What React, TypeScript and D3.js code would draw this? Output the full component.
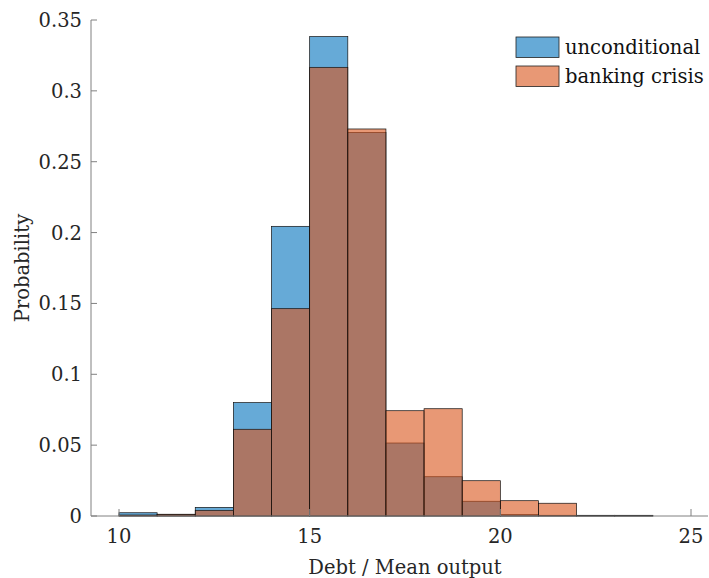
import React from "react";
import * as d3 from "d3";

const binEdges = [10, 11, 12, 13, 14, 15, 16, 17, 18, 19, 20, 21, 22, 23, 24];
const unconditional = [0.0023, 0.0012, 0.0061, 0.08, 0.2044, 0.3383, 0.2707, 0.0515, 0.0277, 0.0104, 0.001, 0.0005, 0.0002, 0.0001];
const bankingCrisis = [0.0007, 0.0012, 0.004, 0.0612, 0.1463, 0.3166, 0.2731, 0.0743, 0.0757, 0.0249, 0.0108, 0.009, 0.0005, 0.0005];
const xTicks = [10, 15, 20, 25];
const yTicks = [0, 0.05, 0.1, 0.15, 0.2, 0.25, 0.3, 0.35];
const yTickLabels = ["0", "0.05", "0.1", "0.15", "0.2", "0.25", "0.3", "0.35"];
const seriesNames = ["unconditional", "banking crisis"];
const seriesColors = ["#0072BD", "#D95319"];

const W = 709;
const H = 578;
const FONT = "'DejaVu Serif', 'Liberation Serif', serif";
const FS = 19.5;

export default function App() {
  const x = d3.scaleLinear().domain([10, 25]).range([119, 691]);
  const y = d3.scaleLinear().domain([0, 0.35]).range([516, 20]);
  const x0 = 91;
  const x1 = 708;
  const series = [unconditional, bankingCrisis];

  return (
    <svg width={W} height={H} style={{ position: "absolute", left: 0, top: 0, background: "#fff" }}>
      <rect x={0} y={0} width={W} height={H} fill="#fff" />
      {series.map((vals, si) => (
        <g key={si}>
          {vals.map((v, i) => {
            const xa = x(binEdges[i]);
            const xb = x(binEdges[i] + 1);
            return (
              <rect
                key={i}
                x={xa}
                y={y(v)}
                width={xb - xa}
                height={y(0) - y(v)}
                fill={seriesColors[si]}
                fillOpacity={0.6}
                stroke="#111"
                strokeWidth={0.7}
              />
            );
          })}
        </g>
      ))}
      {/* axes */}
      <line x1={x0} y1={y(0)} x2={x1} y2={y(0)} stroke="#808080" strokeWidth={1} />
      <line x1={x0} y1={y(0)} x2={x0} y2={y(0.35)} stroke="#808080" strokeWidth={1} />
      {xTicks.map((t) => (
        <g key={t}>
          <line x1={x(t)} x2={x(t)} y1={y(0)} y2={y(0) - 7} stroke="#808080" strokeWidth={1} />
          <text x={x(t)} y={543} textAnchor="middle" fontFamily={FONT} fontSize={FS} fill="#262626">
            {t}
          </text>
        </g>
      ))}
      {yTicks.map((t, i) => (
        <g key={t}>
          <line x1={x0} x2={x0 + 6} y1={y(t)} y2={y(t)} stroke="#808080" strokeWidth={1} />
          <text x={82} y={y(t) + 7} textAnchor="end" fontFamily={FONT} fontSize={FS} fill="#262626">
            {yTickLabels[i]}
          </text>
        </g>
      ))}
      <text x={405} y={574} textAnchor="middle" fontFamily={FONT} fontSize={FS} fill="#262626">
        Debt / Mean output
      </text>
      <text
        transform={`translate(29, ${(y(0) + y(0.35)) / 2}) rotate(-90)`}
        textAnchor="middle"
        fontFamily={FONT}
        fontSize={FS}
        fill="#262626"
      >
        Probability
      </text>
      {/* legend */}
      {seriesNames.map((name, i) => (
        <g key={name}>
          <rect
            x={516}
            y={37 + i * 29}
            width={43}
            height={20.5}
            fill={seriesColors[i]}
            fillOpacity={0.6}
            stroke="#222"
            strokeWidth={0.8}
          />
          <text x={565} y={54 + i * 29} fontFamily={FONT} fontSize={FS} fill="#111">
            {name}
          </text>
        </g>
      ))}
    </svg>
  );
}
